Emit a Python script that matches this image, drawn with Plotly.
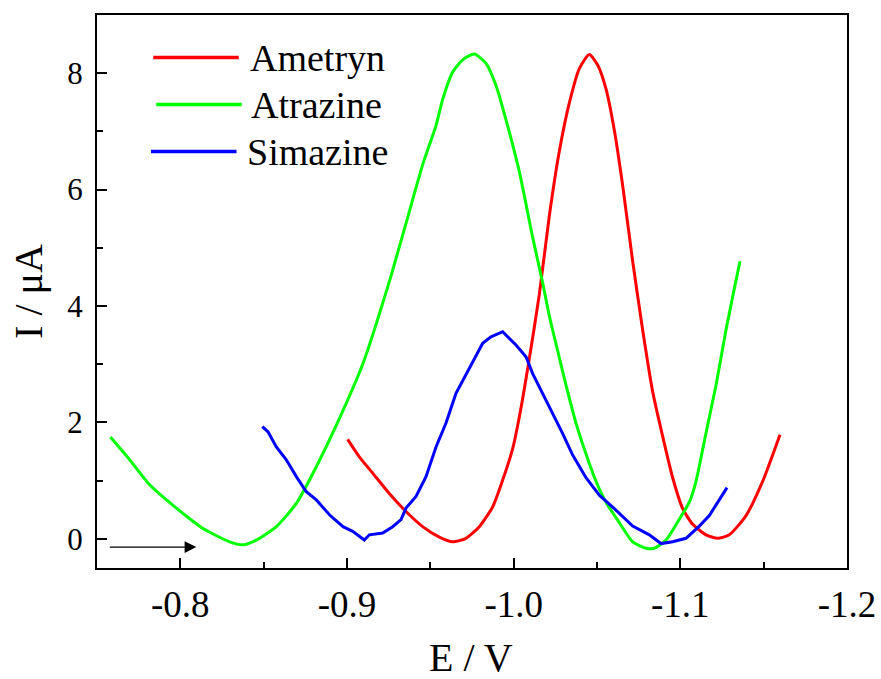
import plotly.graph_objects as go

# ---------------- data ----------------
series_names = ["Ametryn", "Atrazine", "Simazine"]
series_colors = ["#FF0000", "#00FF00", "#0000FF"]

ametryn_E = [-0.9004, -0.9074, -0.9154, -0.9254, -0.9354, -0.9454, -0.9554, -0.9634,
             -0.9714, -0.9794, -0.9874, -0.9934, -0.9994, -1.0044, -1.0094, -1.0154,
             -1.0214, -1.0274, -1.0334, -1.0394, -1.0454, -1.0504, -1.0554, -1.0604,
             -1.0654, -1.0714, -1.0774, -1.0834, -1.0894, -1.0954, -1.1014, -1.1074,
             -1.1154, -1.1224, -1.1294, -1.1394, -1.1494, -1.1598]
ametryn_I = [1.71, 1.41, 1.13, 0.78, 0.47, 0.21, 0.03, -0.05,
             0.01, 0.21, 0.55, 1.01, 1.55, 2.25, 3.10, 4.20,
             5.55, 6.66, 7.49, 8.08, 8.32, 8.14, 7.73, 7.02,
             6.07, 4.77, 3.59, 2.53, 1.76, 1.05, 0.52, 0.25,
             0.07, 0.01, 0.07, 0.40, 0.99, 1.79]

atrazine_E = [-0.758, -0.7696, -0.7816, -0.7976, -0.8136, -0.8296, -0.8376, -0.8456,
              -0.8576, -0.8696, -0.8816, -0.8934, -0.9094, -0.9254, -0.9354, -0.9454,
              -0.9534, -0.9574, -0.9634, -0.9694, -0.9764, -0.9834, -0.9894, -0.9954,
              -1.0034, -1.0114, -1.0174, -1.0214, -1.0254, -1.0314, -1.0374, -1.0434,
              -1.0494, -1.0554, -1.0634, -1.0714, -1.0794, -1.0844, -1.0914, -1.0994,
              -1.1054, -1.1094, -1.1154, -1.1214, -1.1274, -1.1324, -1.1358]
atrazine_I = [1.75, 1.36, 0.93, 0.53, 0.18, -0.05, -0.10, -0.02,
              0.21, 0.61, 1.24, 1.94, 3.00, 4.42, 5.42, 6.43,
              7.10, 7.55, 8.02, 8.23, 8.33, 8.17, 7.79, 7.20,
              6.31, 5.18, 4.40, 3.83, 3.35, 2.64, 1.99, 1.46,
              0.99, 0.63, 0.28, -0.05, -0.16, -0.16, -0.02, 0.34,
              0.63, 0.99, 1.82, 2.64, 3.59, 4.30, 4.77]

simazine_E = [-0.8492, -0.8526, -0.8576, -0.8636, -0.8696, -0.8756, -0.8816, -0.8896,
              -0.8976, -0.9034, -0.9104, -0.9134, -0.9214, -0.9274, -0.9324, -0.9354,
              -0.9414, -0.9474, -0.9534, -0.9594, -0.9654, -0.9724, -0.9814, -0.9864,
              -0.9934, -1.0014, -1.0074, -1.0114, -1.0174, -1.0234, -1.0294, -1.0354,
              -1.0434, -1.0514, -1.0604, -1.0714, -1.0814, -1.0884, -1.0954, -1.1034,
              -1.1114, -1.1174, -1.1224, -1.1280]
simazine_I = [1.93, 1.84, 1.58, 1.36, 1.07, 0.81, 0.67, 0.41,
              0.21, 0.13, -0.02, 0.07, 0.10, 0.21, 0.33, 0.53,
              0.73, 1.07, 1.58, 1.99, 2.50, 2.87, 3.36, 3.47,
              3.56, 3.33, 3.13, 2.84, 2.50, 2.16, 1.81, 1.44,
              1.05, 0.75, 0.52, 0.22, 0.07, -0.08, -0.05, 0.01,
              0.22, 0.40, 0.63, 0.88]

x_tickvals = [-0.8, -0.9, -1.0, -1.1, -1.2]
x_ticktext = ["-0.8", "-0.9", "-1.0", "-1.1", "-1.2"]
x_minorvals = [-0.75, -0.85, -0.95, -1.05, -1.15]
y_tickvals = [0, 2, 4, 6, 8]
x_title = "E / V"
y_title = "I / μA"

FONT = "Liberation Serif, Times New Roman, serif"

fig = go.Figure()
data = [(ametryn_E, ametryn_I, "spline"), (atrazine_E, atrazine_I, "spline"),
        (simazine_E, simazine_I, "linear")]
for (xs, ys, shp), name, col in zip(data, series_names, series_colors):
    fig.add_trace(go.Scatter(x=xs, y=ys, mode="lines", name=name,
                             line=dict(color=col, width=3, shape=shp, smoothing=0.6),
                             showlegend=False))

# manual legend (long line samples like the original)
leg_y = [0.923, 0.838, 0.753]
leg_x0 = [0.075, 0.079, 0.072]
leg_tx = [0.201, 0.203, 0.197]
for name, col, yy, x0, tx in zip(series_names, series_colors, leg_y, leg_x0, leg_tx):
    fig.add_shape(type="line", xref="paper", yref="paper", x0=x0, x1=x0 + 0.114,
                  y0=yy, y1=yy, line=dict(color=col, width=3.5))
    fig.add_annotation(xref="paper", yref="paper", x=tx, y=yy, text=name,
                       showarrow=False, xanchor="left", yanchor="middle",
                       font=dict(family=FONT, size=38, color="black"))

# axis titles
fig.add_annotation(xref="paper", yref="paper", x=0.4987, y=-0.161, text=x_title,
                   showarrow=False, xanchor="center", yanchor="middle",
                   font=dict(family=FONT, size=40, color="black"))
fig.add_annotation(xref="paper", yref="paper", x=-0.0907, y=0.501, text=y_title,
                   showarrow=False, xanchor="center", yanchor="middle", textangle=-90,
                   font=dict(family=FONT, size=40, color="black"))

# scan direction arrow
fig.add_annotation(x=-0.8096, y=-0.14, ax=-0.7568, ay=-0.14, xref="x", yref="y",
                   axref="x", ayref="y", text="", showarrow=True,
                   arrowhead=2, arrowsize=1.8, arrowwidth=1.3, arrowcolor="black")

fig.update_layout(
    width=881, height=679,
    margin=dict(l=97, r=34, t=15, b=111, autoexpand=False),
    paper_bgcolor="white", plot_bgcolor="white",
    font=dict(family=FONT, color="black"),
)
fig.update_xaxes(
    range=[-0.75, -1.2], autorange=False, automargin=False,
    tickmode="array", tickvals=x_tickvals, ticktext=x_ticktext,
    ticks="inside", ticklen=10, tickwidth=2, tickcolor="black",
    minor=dict(tickmode="array", tickvals=x_minorvals, ticks="inside",
               ticklen=6, tickwidth=2, tickcolor="black", showgrid=False),
    showline=True, linewidth=2, linecolor="black", mirror=True,
    showgrid=False, zeroline=False,
    tickfont=dict(family=FONT, size=37),
    ticklabelstandoff=3,
)
fig.update_yaxes(
    range=[-0.5, 9], autorange=False, automargin=False,
    tickmode="array", tickvals=y_tickvals,
    ticks="inside", ticklen=10, tickwidth=2, tickcolor="black",
    minor=dict(dtick=1, tick0=0, ticks="inside", ticklen=6, tickwidth=2,
               tickcolor="black", showgrid=False),
    showline=True, linewidth=2, linecolor="black", mirror=True,
    showgrid=False, zeroline=False,
    tickfont=dict(family=FONT, size=31),
    ticklabelstandoff=6,
)

fig.write_html("out.html", config={"displayModeBar": False},
               post_script="document.body.style.margin='0';document.body.style.overflow='hidden';")
